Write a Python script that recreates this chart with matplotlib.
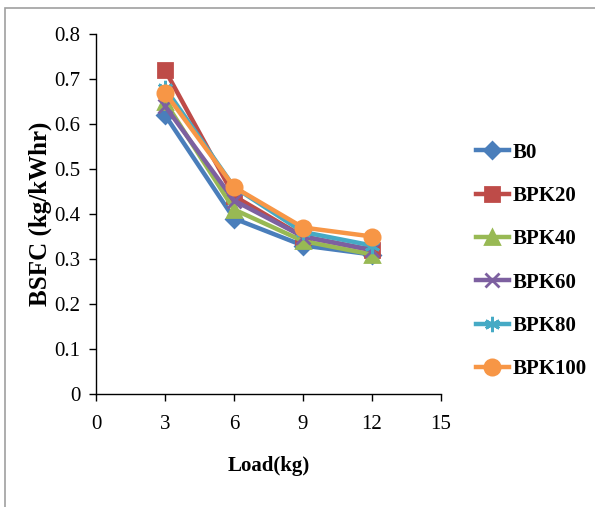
import matplotlib.pyplot as plt
from matplotlib.lines import Line2D
from matplotlib.patches import Rectangle

load = [3, 6, 9, 12]
b0 = [0.62, 0.39, 0.33, 0.31]
bpk20 = [0.72, 0.44, 0.35, 0.32]
bpk40 = [0.65, 0.41, 0.34, 0.31]
bpk60 = [0.64, 0.43, 0.35, 0.32]
bpk80 = [0.68, 0.46, 0.36, 0.33]
bpk100 = [0.67, 0.46, 0.37, 0.35]
names = ["B0", "BPK20", "BPK40", "BPK60", "BPK80", "BPK100"]

plt.rcParams['font.family'] = ['Liberation Serif', 'DejaVu Serif']

fig = plt.figure(figsize=(5.95, 5.07), dpi=100)
# chart area border (left and top edges visible)
fig.patches.append(Rectangle((5 / 595, -0.1), 1.2, 1 - 8 / 507 + 0.1,
                             transform=fig.transFigure, fill=False,
                             edgecolor='#a0a0a0', linewidth=1.2))
ax = fig.add_axes([96 / 595, 1 - 394 / 507, 345 / 595, 360 / 507])

series = [b0, bpk20, bpk40, bpk60, bpk80, bpk100]
colors = ['#4A7EBB', '#BE4B48', '#98B954', '#7D60A0', '#46AAC5', '#F79646']
markers = ['D', 's', '^', 'x', (6, 2, 0), 'o']
msizes = [8, 10, 10, 10, 11, 11]

handles = []
for ys, c, m, ms, nm in zip(series, colors, markers, msizes, names):
    ax.plot(load, ys, color=c, lw=3.2, marker=m, ms=ms,
            mfc=c, mec=c, mew=2, zorder=3)
    handles.append(Line2D([], [], color=c, lw=3.2, marker=m, ms=ms,
                          mfc=c, mec=c, mew=2))

ax.set_xlim(0, 15)
ax.set_ylim(0, 0.8)
ax.set_xticks([0, 3, 6, 9, 12, 15])
ax.set_yticks([0, 0.1, 0.2, 0.3, 0.4, 0.5, 0.6, 0.7, 0.8])
ax.set_yticklabels(['0', '0.1', '0.2', '0.3', '0.4', '0.5', '0.6', '0.7', '0.8'])
for s in ['top', 'right']:
    ax.spines[s].set_visible(False)
for s in ['left', 'bottom']:
    ax.spines[s].set_linewidth(1.0)
ax.tick_params(direction='out', length=5, width=1, labelsize=15)
ax.tick_params(axis='x', pad=10)
ax.tick_params(axis='y', pad=6)

ax.set_xlabel('Load(kg)', fontsize=15, fontweight='bold', labelpad=16)
ax.set_ylabel('BSFC (kg/kWhr)', fontsize=18, fontweight='bold', labelpad=2)

fig.legend(handles, names, loc='upper left',
           bbox_to_anchor=(457 / 595, 1 - 124 / 507), frameon=False,
           prop={'weight': 'bold', 'size': 15}, handlelength=1.6,
           handletextpad=0.15, labelspacing=1.12)

fig.savefig('out.png', dpi=100)
